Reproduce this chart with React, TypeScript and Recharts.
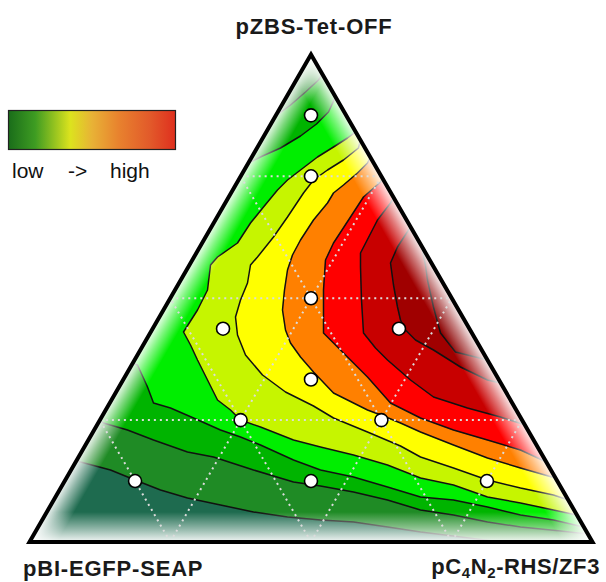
import React from 'react';
import { ScatterChart, Scatter, XAxis, YAxis } from 'recharts';

type Pt = [number, number];
type XY = { x: number; y: number };

// ternary plot frame: side of the triangle in plot units, origin at the pBI-EGFP-SEAP corner
const SIDE = 563;
const HEIGHT = (SIDE * Math.sqrt(3)) / 2;

// design points as ternary fractions (a = pZBS-Tet-OFF, c = pC4N2-RHS/ZF3)
const designA = [7 / 8, 3 / 4, 1 / 2, 7 / 16, 7 / 16, 1 / 3, 1 / 4, 1 / 4, 1 / 8, 1 / 8, 1 / 8];
const designC = [1 / 16, 1 / 8, 1 / 4, 1 / 8, 7 / 16, 1 / 3, 1 / 4, 1 / 2, 1 / 8, 7 / 16, 3 / 4];

const gridSteps = [0.25, 0.5, 0.75];

// contour lines, low -> high
const c1: Pt[] = [[47, 82], [51, 80], [81, 72], [108, 61], [131, 52], [158, 44], [191, 37], [224, 30], [258, 25], [291, 22], [324, 20], [358, 15], [391, 10], [431, 5], [471, 0]];
const c2Low: Pt[] = [[70, 122], [74, 119], [98, 112], [124, 102], [158, 90], [184, 85], [224, 72], [264, 60], [291, 56], [324, 50], [358, 42], [391, 32], [424, 27], [458, 20], [491, 15], [531, 11], [558, 8]];
const c2Top: Pt[] = [[246, 426], [261, 437], [276, 450], [289, 462], [293, 468]];
const c3Low: Pt[] = [[103, 179], [108, 177], [118, 155], [124, 139], [141, 134], [164, 124], [191, 112], [211, 105], [231, 97], [264, 82], [291, 72], [324, 65], [358, 55], [391, 45], [424, 42], [458, 35], [491, 27], [524, 22], [554, 15]];
const c3Top: Pt[] = [[219, 379], [233, 386], [251, 394], [271, 406], [287, 418], [299, 430], [306, 445]];
const c4: Pt[] = [[326, 410], [318, 404], [304, 395], [288, 385], [271, 372], [258, 362], [248, 352], [234, 335], [221, 319], [208, 299], [188, 285], [181, 277], [178, 252], [168, 232], [154, 210], [161, 197], [168, 182], [178, 162], [188, 142], [201, 132], [211, 122], [231, 115], [264, 102], [291, 95], [324, 87], [358, 77], [391, 64], [424, 57], [458, 45], [491, 39], [524, 32], [547, 27]];
const c5: Pt[] = [[331, 402], [329, 394], [314, 382], [298, 372], [284, 362], [274, 349], [266, 337], [258, 325], [244, 305], [228, 285], [221, 277], [218, 259], [211, 242], [206, 225], [208, 207], [216, 187], [233, 167], [256, 150], [284, 136], [304, 124], [338, 110], [371, 96], [391, 85], [424, 74], [458, 62], [491, 54], [524, 47], [539, 42]];
const c6: Pt[] = [[341, 385], [338, 379], [328, 369], [314, 357], [304, 349], [298, 339], [284, 322], [271, 302], [263, 287], [258, 272], [255, 252], [253, 232], [256, 212], [261, 199], [271, 185], [284, 170], [304, 149], [338, 132], [354, 126], [371, 119], [391, 110], [424, 97], [458, 84], [491, 74], [526, 64]];
const c7: Pt[] = [[353, 364], [351, 360], [334, 345], [321, 325], [304, 299], [296, 282], [294, 252], [294, 209], [304, 199], [321, 182], [338, 165], [361, 139], [391, 124], [424, 112], [458, 102], [491, 92], [517, 80]];
const c8: Pt[] = [[364, 344], [361, 339], [348, 322], [331, 289], [331, 275], [332, 242], [334, 209], [346, 194], [358, 182], [381, 162], [404, 145], [438, 134], [471, 125], [496, 117]];
const c9: Pt[] = [[380, 318], [381, 315], [368, 295], [361, 279], [364, 257], [368, 235], [371, 222], [376, 212], [386, 202], [404, 192], [431, 175], [458, 162], [471, 159]];
const c10: Pt[] = [[392, 296], [396, 277], [398, 262], [404, 235], [411, 209], [426, 190], [458, 182]];

const levelColors = ['#1e6b4f', '#1f8b25', '#00b400', '#00ee00', '#c6f500', '#ffff00', '#ff8000', '#ff0000', '#c80000', '#a00000', '#8c0000'];

const tern = (a: number, c: number): XY => ({ x: (c + a / 2) * SIDE, y: a * HEIGHT });
const toXY = (pts: Pt[]): XY[] => pts.map(([x, y]) => ({ x, y }));

const L = tern(0, 0);
const R = tern(0, 1);
const A = tern(1, 0);

const rev = (pts: Pt[]) => [...pts].reverse();

const bandData: XY[][] = [
  [L, R, A],
  [...toXY(c1), R, A],
  toXY([...c2Low, ...rev(c2Top)]),
  toXY([...c3Low, ...rev(c3Top)]),
  toXY(c4),
  toXY(c5),
  toXY(c6),
  toXY(c7),
  toXY(c8),
  toXY(c9),
  toXY(c10),
];

const contourData: XY[][] = [c1, c2Low, c2Top, c3Low, c3Top, c4, c5, c6, c7, c8, c9, c10].map(toXY);

const gridData: XY[][] = gridSteps.flatMap((s) => [
  [tern(s, 0), tern(s, 1 - s)],
  [tern(0, s), tern(1 - s, s)],
  [tern(0, 1 - s), tern(1 - s, 0)],
]);

const designData = designA.map((a, i) => tern(a, designC[i]));

const polyPath = (pts: XY[], close = true) =>
  'M' + pts.map((p) => `${p.x},${p.y}`).join('L') + (close ? 'Z' : '');

const noShape = () => <g />;

const fillLine = (color: string) => (props: any) => (
  <path d={polyPath(props.points)} fill={color} stroke={color} strokeWidth={0.6} />
);

const contourLine = (props: any) => (
  <path d={polyPath(props.points, false)} fill="none" stroke="#111" strokeWidth={1.5} strokeLinejoin="round" />
);

const gridLine = (props: any) => (
  <path d={polyPath(props.points, false)} fill="none" stroke="#dcdcdc" strokeWidth={2} strokeDasharray="2 4" />
);

// white fade along the three sides of the triangle
const fadeLine = (props: any) => {
  const [l, r, a] = props.points as XY[];
  const cx = (l.x + r.x + a.x) / 3;
  const cy = (l.y + r.y + a.y) / 3;
  const edges: [XY, XY, number][] = [
    [a, l, 24],
    [l, r, 30],
    [r, a, 26],
  ];
  const strips = edges.map(([p, q, w]) => {
    const ex = q.x - p.x;
    const ey = q.y - p.y;
    const len = Math.hypot(ex, ey);
    let nx = -ey / len;
    let ny = ex / len;
    if (nx * (cx - p.x) + ny * (cy - p.y) < 0) {
      nx = -nx;
      ny = -ny;
    }
    return { p, q, w, nx, ny };
  });
  return (
    <g>
      <defs>
        <clipPath id="tri-clip">
          <path d={polyPath([l, r, a])} />
        </clipPath>
        {strips.map((s, i) => (
          <linearGradient
            key={i}
            id={`fade-${i}`}
            gradientUnits="userSpaceOnUse"
            x1={s.p.x}
            y1={s.p.y}
            x2={s.p.x + s.nx * s.w}
            y2={s.p.y + s.ny * s.w}
          >
            <stop offset="0" stopColor="#fff" stopOpacity={0.95} />
            <stop offset="0.45" stopColor="#fff" stopOpacity={0.5} />
            <stop offset="1" stopColor="#fff" stopOpacity={0} />
          </linearGradient>
        ))}
      </defs>
      <g clipPath="url(#tri-clip)">
        {strips.map((s, i) => (
          <path
            key={i}
            d={polyPath([
              s.p,
              s.q,
              { x: s.q.x + s.nx * s.w, y: s.q.y + s.ny * s.w },
              { x: s.p.x + s.nx * s.w, y: s.p.y + s.ny * s.w },
            ])}
            fill={`url(#fade-${i})`}
          />
        ))}
      </g>
    </g>
  );
};

const borderLine = (props: any) => (
  <path d={polyPath(props.points)} fill="none" stroke="#000" strokeWidth={4} strokeLinejoin="miter" />
);

const designShape = (props: any) => (
  <circle cx={props.cx} cy={props.cy} r={6.5} fill="#fff" stroke="#000" strokeWidth={1.6} />
);

const labelFont = 'Liberation Sans, Arial, sans-serif';

export default function App() {
  return (
    <div style={{ position: 'absolute', left: 0, top: 0, width: 606, height: 582, background: '#fff' }}>
      <ScatterChart width={606} height={582} margin={{ top: 0, right: 0, bottom: 0, left: 0 }}>
        <XAxis type="number" dataKey="x" domain={[-29.5, 576.5]} allowDataOverflow hide />
        <YAxis type="number" dataKey="y" domain={[-40, 542]} allowDataOverflow hide />
        {bandData.map((pts, i) => (
          <Scatter
            key={`band-${i}`}
            data={pts}
            shape={noShape}
            line={fillLine(levelColors[i])}
            isAnimationActive={false}
          />
        ))}
        {contourData.map((pts, i) => (
          <Scatter key={`contour-${i}`} data={pts} shape={noShape} line={contourLine} isAnimationActive={false} />
        ))}
        <Scatter data={[L, R, A]} shape={noShape} line={fadeLine} isAnimationActive={false} />
        {gridData.map((pts, i) => (
          <Scatter key={`grid-${i}`} data={pts} shape={noShape} line={gridLine} isAnimationActive={false} />
        ))}
        <Scatter data={designData} shape={designShape} isAnimationActive={false} />
        <Scatter data={[L, R, A]} shape={noShape} line={borderLine} isAnimationActive={false} />
      </ScatterChart>
      <svg
        width={606}
        height={582}
        style={{ position: 'absolute', left: 0, top: 0, pointerEvents: 'none' }}
        fontFamily={labelFont}
      >
        <defs>
          <linearGradient id="legend-grad" x1="0" y1="0" x2="1" y2="0">
            <stop offset="0" stopColor="#1a6d1a" />
            <stop offset="0.16" stopColor="#3e9c22" />
            <stop offset="0.37" stopColor="#dce31e" />
            <stop offset="0.5" stopColor="#e8b236" />
            <stop offset="0.66" stopColor="#e8822e" />
            <stop offset="0.85" stopColor="#e2592a" />
            <stop offset="1" stopColor="#df2f1e" />
          </linearGradient>
        </defs>
        <rect x={8.5} y={110.5} width={167} height={39} fill="url(#legend-grad)" stroke="#222" strokeWidth={1.2} />
        <text y={178} fontSize={21} fill="#111">
          <tspan x={12}>low</tspan>
          <tspan x={68}>-&gt;</tspan>
          <tspan x={110}>high</tspan>
        </text>
        <text x={314} y={34} fontSize={22} fontWeight="bold" letterSpacing={0.8} textAnchor="middle" fill="#1a1a1a">
          pZBS-Tet-OFF
        </text>
        <text x={23} y={576} fontSize={22} fontWeight="bold" letterSpacing={0.8} fill="#1a1a1a">
          pBI-EGFP-SEAP
        </text>
        <text x={600} y={574} fontSize={22} fontWeight="bold" letterSpacing={0.6} textAnchor="end" fill="#1a1a1a">
          pC
          <tspan fontSize={15} dy={4}>4</tspan>
          <tspan dy={-4}>N</tspan>
          <tspan fontSize={15} dy={4}>2</tspan>
          <tspan dy={-4}>-RHS/ZF3</tspan>
        </text>
      </svg>
    </div>
  );
}
